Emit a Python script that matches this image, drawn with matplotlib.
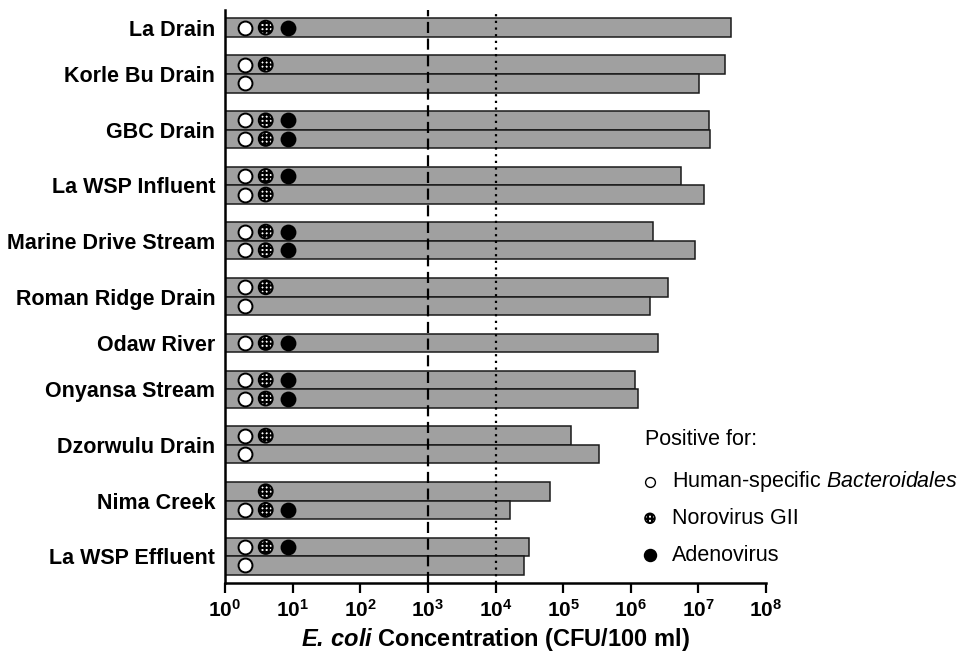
import matplotlib
matplotlib.use("Agg")
import matplotlib.pyplot as plt

plt.rcParams['font.family'] = ['Liberation Sans', 'DejaVu Sans']
plt.rcParams['mathtext.fontset'] = 'custom'
plt.rcParams['mathtext.rm'] = 'Liberation Sans'
plt.rcParams['mathtext.it'] = 'Liberation Sans:italic'
plt.rcParams['mathtext.bf'] = 'Liberation Sans:bold'
plt.rcParams['mathtext.sf'] = 'Liberation Sans:bold:italic'
plt.rcParams['hatch.linewidth'] = 1.6

sites = ["La Drain", "Korle Bu Drain", "GBC Drain", "La WSP Influent",
         "Marine Drive Stream", "Roman Ridge Drain", "Odaw River",
         "Onyansa Stream", "Dzorwulu Drain", "Nima Creek", "La WSP Effluent"]
bar_site = [0, 1, 1, 2, 2, 3, 3, 4, 4, 5, 5, 6, 7, 7, 8, 8, 9, 9, 10, 10]
ecoli = [3.0e7, 2.47e7, 1.02e7, 1.46e7, 1.5e7, 5.5e6, 1.23e7, 2.14e6, 8.8e6,
         3.6e6, 1.9e6, 2.54e6, 1.17e6, 1.26e6, 1.29e5, 3.36e5, 6.5e4, 1.65e4,
         3.15e4, 2.66e4]
hbact = [1, 1, 1, 1, 1, 1, 1, 1, 1, 1, 1, 1, 1, 1, 1, 1, 0, 1, 1, 1]
noro = [1, 1, 0, 1, 1, 1, 1, 1, 1, 1, 0, 1, 1, 1, 1, 0, 1, 1, 1, 0]
adeno = [1, 0, 0, 1, 1, 1, 0, 1, 1, 0, 0, 1, 1, 1, 0, 0, 0, 1, 1, 0]
tick_exps = [0, 1, 2, 3, 4, 5, 6, 7, 8]
ref_lines = [1e3, 1e4]

# marker x positions (style)
MX_H, MX_N, MX_A = 2.0, 4.0, 8.4

# compute bar positions
pos = []
y = 0.0
prev = None
for s in bar_site:
    if prev is not None and s != prev:
        y += 1.0
    pos.append(y + 0.5)
    y += 1.0
    prev = s
total = y

fig = plt.figure(figsize=(9.63, 6.56), dpi=100)
ax = fig.add_axes([225/963, 1 - 583.3/656, (766-225)/963, (583.3-10)/656])

ax.set_xscale('log')
ax.barh(pos, [v - 1 for v in ecoli], left=1, height=1.0,
        color='#a0a0a0', edgecolor='#1a1a1a', linewidth=1.1, zorder=2)

ax.axvline(ref_lines[0], color='black', linestyle=(0, (5, 2.5)), linewidth=1.6, zorder=3)
ax.axvline(ref_lines[1], color='black', linestyle=(0, (1, 2)), linewidth=1.6, zorder=3)

ms = 100
for p, h, n, a in zip(pos, hbact, noro, adeno):
    if h:
        ax.scatter([MX_H], [p], s=ms, facecolor='white', edgecolor='black', linewidth=1.4, zorder=4)
    if n:
        ax.scatter([MX_N], [p], s=ms, facecolor='white', edgecolor='black', linewidth=1.4,
                   hatch='++++', zorder=4)
    if a:
        ax.scatter([MX_A], [p], s=ms, facecolor='black', edgecolor='black', linewidth=1.4, zorder=4)

# site labels
label_pos = []
for i, s in enumerate(sites):
    ps = [p for p, b in zip(pos, bar_site) if b == i]
    label_pos.append(sum(ps) / len(ps))
ax.set_yticks(label_pos)
ax.set_yticklabels(sites, fontsize=15.5, fontweight='bold')
ax.tick_params(axis='y', length=0, pad=7)

ax.set_xlim(1, 1e8)
ax.set_ylim(total + 0.46, -0.45)
ax.set_xticks([10.0**e for e in tick_exps])
ax.set_xticklabels([r'$\mathbf{10^{%d}}$' % e for e in tick_exps], fontsize=15)
ax.xaxis.set_minor_locator(matplotlib.ticker.NullLocator())
ax.tick_params(axis='x', length=7, width=1.6, direction='out', pad=4)

for sp in ['top', 'right']:
    ax.spines[sp].set_visible(False)
for sp in ['left', 'bottom']:
    ax.spines[sp].set_linewidth(1.8)

ax.set_xlabel(r'$\mathsf{E.\,coli}$ Concentration (CFU/100 ml)', fontsize=17,
              fontweight='bold', labelpad=4)

# legend (manual)
tr = ax.transAxes
ax.text(0.776, 0.25, 'Positive for:', transform=tr, fontsize=15.5, va='center', ha='left')
leg_y = [0.177, 0.1134, 0.049]
leg_txt = [r'Human-specific $\mathit{Bacteroidales}$', 'Norovirus GII', 'Adenovirus']
ax.scatter([0.7855], [leg_y[0]], s=50, facecolor='white', edgecolor='black', linewidth=1.0,
           transform=tr, zorder=5, clip_on=False)
ax.scatter([0.7855], [leg_y[1]], s=50, facecolor='white', edgecolor='black', linewidth=1.2,
           hatch='++++', transform=tr, zorder=5, clip_on=False)
ax.scatter([0.7855], [leg_y[2]], s=75, facecolor='black', edgecolor='black', linewidth=1.0,
           transform=tr, zorder=5, clip_on=False)
for yy, t in zip(leg_y, leg_txt):
    ax.text(0.8256, yy, t, transform=tr, fontsize=15.5, va='center', ha='left')

fig.savefig('out.png', dpi=100)
